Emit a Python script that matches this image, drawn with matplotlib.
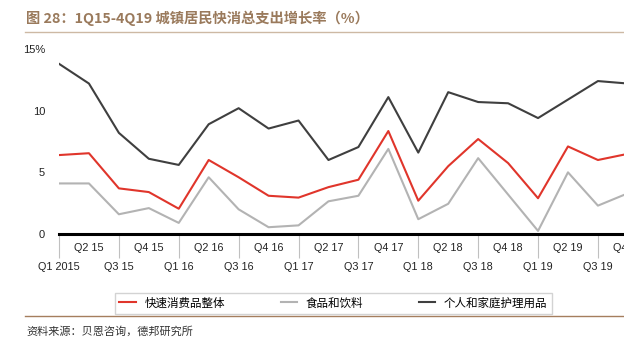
import matplotlib
matplotlib.use("Agg")
import matplotlib.pyplot as plt

plt.rcParams['font.family'] = ['Liberation Sans', 'Noto Sans CJK SC', 'DejaVu Sans']

quarters = ['Q1 2015', 'Q2 15', 'Q3 15', 'Q4 15', 'Q1 16', 'Q2 16', 'Q3 16', 'Q4 16',
            'Q1 17', 'Q2 17', 'Q3 17', 'Q4 17', 'Q1 18', 'Q2 18', 'Q3 18', 'Q4 18',
            'Q1 19', 'Q2 19', 'Q3 19', 'Q4 19']
fmcg_total = [6.4, 6.55, 3.7, 3.4, 2.05, 6.0, 4.6, 3.1, 2.95, 3.8,
              4.4, 8.35, 2.7, 5.5, 7.7, 5.75, 2.9, 7.1, 6.0, 6.5]
food_bev = [4.1, 4.1, 1.6, 2.1, 0.9, 4.6, 2.0, 0.55, 0.7, 2.65,
            3.1, 6.9, 1.2, 2.45, 6.15, 3.2, 0.25, 5.0, 2.3, 3.3]
personal_home = [13.8, 12.2, 8.2, 6.1, 5.6, 8.9, 10.2, 8.55, 9.2, 6.0,
                 7.05, 11.1, 6.6, 11.5, 10.7, 10.6, 9.4, 10.9, 12.4, 12.2]
series_names = ['快速消费品整体', '食品和饮料', '个人和家庭护理用品']
yticks = [0, 5, 10, 15]
ytick_labels = ['0', '5', '10', '15%']

W, H = 624, 345
fig = plt.figure(figsize=(W / 100, H / 100), dpi=100)
ax = fig.add_axes([59 / W, (H - 234) / H, 1 - 59 / W, (234 - 49) / H])

x = list(range(len(quarters)))
l1, = ax.plot(x, fmcg_total, color='#e0352b', lw=1.5)
l2, = ax.plot(x, food_bev, color='#b3b3b3', lw=1.5)
l3, = ax.plot(x, personal_home, color='#3f3f3f', lw=1.5)

ax.set_xlim(0, (W - 59) / 29.94)
ax.set_ylim(0, 15)
for s in ['top', 'right', 'left']:
    ax.spines[s].set_visible(False)
ax.spines['bottom'].set_linewidth(2.2)
ax.spines['bottom'].set_color('black')

ax.set_yticks(yticks)
ax.set_yticklabels(ytick_labels)
ax.tick_params(axis='y', length=0, pad=10, labelsize=8, colors='#222222')

# two-row category axis: separators at Q1/Q3, labels alternate rows
ax.set_xticks(x[::2])
ax.set_xticklabels([])
ax.tick_params(axis='x', direction='out', length=17, width=0.8, color='#c0c0c0')
for i, q in enumerate(quarters):
    dy = -10 if i % 2 else -24
    ax.annotate(q, xy=(i, 0), xycoords=('data', 'axes fraction'),
                xytext=(0, dy), textcoords='offset points',
                ha='center', va='center', fontsize=7.8, color='#222222',
                annotation_clip=False)

fig.legend([l1, l2, l3], series_names, ncol=3, loc='center',
           bbox_to_anchor=(333.5 / W, (H - 303.5) / H), fontsize=8.3,
           frameon=True, fancybox=False, edgecolor='#c8c8c8',
           handlelength=1.4, columnspacing=4.8, handletextpad=0.8,
           borderpad=0.35, borderaxespad=0)

fig.text(26 / W, (H - 18) / H, '图 28：1Q15-4Q19 城镇居民快消总支出增长率（%）',
         fontsize=10.3, fontweight='bold', color='#9a7a5c', va='center',
         family=['Noto Sans CJK SC', 'DejaVu Sans'])
fig.add_artist(plt.Line2D([25 / W, 1], [(H - 32) / H] * 2, color='#cdb9a4', lw=1))
fig.add_artist(plt.Line2D([25 / W, 1], [(H - 316) / H] * 2, color='#a57e5e', lw=1))
fig.text(26 / W, (H - 331) / H, '资料来源：贝恩咨询，德邦研究所', fontsize=8,
         color='#333333', va='center', family=['Noto Sans CJK SC', 'DejaVu Sans'])

fig.savefig('out.png', dpi=100)
